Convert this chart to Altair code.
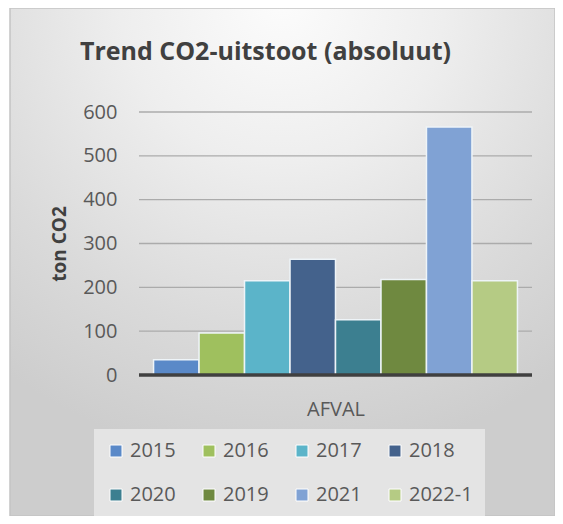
import altair as alt
import pandas as pd

years = ["2015", "2016", "2017", "2018", "2020", "2019", "2021", "2022-1"]
values = [35, 96, 215, 264, 126, 218, 566, 215]
category = ["AFVAL"] * len(years)
colors = ["#5a89c8", "#9fc05e", "#5bb4c9", "#44628c", "#3c7f90", "#6f8940", "#80a2d4", "#b5cb84"]
grid_ticks = [100, 200, 300, 400, 500, 600]

df = pd.DataFrame({"cat": category, "year": years, "value": values})
grid_df = pd.DataFrame({"tick": grid_ticks})
bg_df = pd.DataFrame({"bg": [0]})

FONT = "Open Sans"

W, H = 393, 263
PAD_L, PAD_T = 131, 104
PAD_R = 547 - PAD_L - W
PAD_B = 508 - PAD_T - H

bg = alt.Chart(bg_df).mark_rect(
    fill=alt.RadialGradient(
        gradient="radial",
        x1=0.5, y1=0.02, r1=0.0,
        x2=0.5, y2=0.02, r2=0.85,
        stops=[alt.GradientStop(color="#fcfcfc", offset=0),
               alt.GradientStop(color="#eeeeee", offset=0.35),
               alt.GradientStop(color="#dadada", offset=0.72),
               alt.GradientStop(color="#cdcdcd", offset=1)],
    ),
    stroke="#c4c4c4",
    strokeWidth=1.5,
).encode(
    x=alt.value(-PAD_L + 2), x2=alt.value(W + PAD_R),
    y=alt.value(-PAD_T), y2=alt.value(H + PAD_B),
)

yscale = alt.Scale(domain=[0, 600], nice=False)

grid = alt.Chart(grid_df).mark_rule(color="#ababab", strokeWidth=1.3).encode(
    y=alt.Y("tick:Q", scale=yscale)
)

bars = alt.Chart(df).mark_bar(stroke="#eef4f8", strokeWidth=1.5).encode(
    x=alt.X("cat:N", scale=alt.Scale(paddingInner=0, paddingOuter=0.04),
            axis=alt.Axis(title="AFVAL", labels=False, ticks=False, domain=False,
                          titleFont=FONT, titleFontSize=20, titleFontWeight="normal",
                          titleColor="#595959", titleBaseline="alphabetic",
                          titleY=40, zindex=1)),
    xOffset=alt.XOffset("year:N", sort=years, scale=alt.Scale(paddingInner=0, paddingOuter=0)),
    y=alt.Y("value:Q", scale=yscale,
            axis=alt.Axis(title="ton CO2", values=[0, 100, 200, 300, 400, 500, 600],
                          grid=False, ticks=False, tickSize=0, domain=False,
                          labelFont=FONT, labelFontSize=20, labelColor="#595959",
                          labelPadding=22,
                          titleFont=FONT, titleFontSize=19, titleFontWeight="bold",
                          titleColor="#404040", titleBaseline="alphabetic",
                          titleX=-74, titleY=H / 2, titleAngle=270, zindex=1)),
    color=alt.Color("year:N", sort=years,
                    scale=alt.Scale(domain=years, range=colors),
                    legend=alt.Legend(title=None, orient="none", legendX=-45, legendY=317,
                                      direction="horizontal", columns=4, gridAlign="all",
                                      symbolType="square", symbolSize=144,
                                      symbolStrokeColor="#ffffff", symbolStrokeWidth=1,
                                      labelFont=FONT, labelFontSize=20, labelColor="#595959",
                                      labelOffset=4, columnPadding=5, rowPadding=24,
                                      padding=12, fillColor="#e4e4e4", zindex=1)),
)

baseline = alt.Chart(bg_df).mark_rule(color="#404040", strokeWidth=3.5).encode(
    y=alt.value(H)
)

chart = alt.layer(bg, grid, bars, baseline).properties(
    width=W, height=H,
    autosize=alt.AutoSizeParams(type="none"),
    padding={"left": PAD_L, "top": PAD_T, "right": PAD_R, "bottom": PAD_B},
    background="#ffffff",
    title=alt.TitleParams(text="Trend CO2-uitstoot (absoluut)", font=FONT, fontSize=25,
                          fontWeight="bold", color="#404040", anchor="middle",
                          baseline="alphabetic",
                          frame="group", dx=-70, offset=-78, zindex=1),
).configure_view(strokeWidth=0)

chart.save("out.html", embed_options={"renderer": "svg", "actions": False})
